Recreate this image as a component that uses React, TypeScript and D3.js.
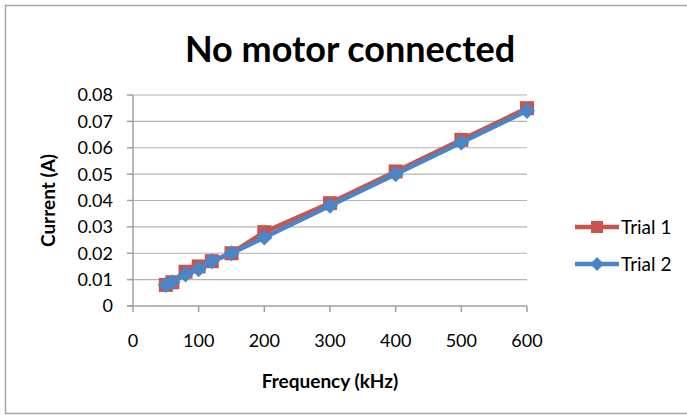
import React, { useRef, useEffect } from 'react'
import * as d3 from 'd3'

const frequencies = [50, 60, 80, 100, 120, 150, 200, 300, 400, 500, 600]
const trial1 = [0.008, 0.009, 0.013, 0.015, 0.017, 0.020, 0.028, 0.039, 0.051, 0.063, 0.075]
const trial2 = [0.008, 0.009, 0.012, 0.014, 0.017, 0.020, 0.026, 0.038, 0.050, 0.062, 0.074]
const xTicks = [0, 100, 200, 300, 400, 500, 600]
const yTicks = [0, 0.01, 0.02, 0.03, 0.04, 0.05, 0.06, 0.07, 0.08]
const seriesNames = ['Trial 1', 'Trial 2']

const W = 687
const H = 415
const font = 'Lato, "Open Sans", sans-serif'
const red = '#C9544F'
const blue = '#4A86C5'

// rotated square, as the spreadsheet draws its diamond
const squareDiamond = (r: number) => `M0,${-r}L${r},0L0,${r}L${-r},0Z`

const App: React.FC = () => {
  const svgRef = useRef<SVGSVGElement>(null)

  useEffect(() => {
    if (!svgRef.current) return
    const svg = d3.select(svgRef.current)
    svg.selectAll('*').remove()

    const x = d3.scaleLinear().domain([0, 600]).range([133, 527])
    const y = d3.scaleLinear().domain([0, 0.08]).range([306, 95])

    svg.append('rect')
      .attr('x', 5.5).attr('y', 5.5).attr('width', W + 10).attr('height', H - 7)
      .attr('fill', '#fff').attr('stroke', '#a6a6a6').attr('stroke-width', 1.5)

    // gridlines
    svg.append('g').selectAll('line').data(yTicks.slice(1)).join('line')
      .attr('x1', 133).attr('x2', 527)
      .attr('y1', d => y(d)).attr('y2', d => y(d))
      .attr('stroke', '#b3b3b3').attr('stroke-width', 1.2)

    // axes
    svg.append('line').attr('x1', 133).attr('x2', 133).attr('y1', y(0.08)).attr('y2', y(0))
      .attr('stroke', '#a0a0a0').attr('stroke-width', 1.5)
    svg.append('line').attr('x1', 127).attr('x2', 527).attr('y1', y(0)).attr('y2', y(0))
      .attr('stroke', '#a0a0a0').attr('stroke-width', 1.5)
    svg.append('g').selectAll('line').data(yTicks).join('line')
      .attr('x1', 127).attr('x2', 133).attr('y1', d => y(d)).attr('y2', d => y(d))
      .attr('stroke', '#a0a0a0').attr('stroke-width', 1.5)
    svg.append('g').selectAll('line').data(xTicks).join('line')
      .attr('x1', d => x(d)).attr('x2', d => x(d)).attr('y1', y(0)).attr('y2', y(0) + 6)
      .attr('stroke', '#a0a0a0').attr('stroke-width', 1.5)

    svg.append('g').selectAll('text').data(yTicks).join('text')
      .attr('x', 113).attr('y', d => y(d)).attr('dy', '0.36em')
      .attr('text-anchor', 'end').attr('font-family', font).attr('font-size', 18)
      .text(d => d === 0 ? '0' : d.toFixed(2))
    svg.append('g').selectAll('text').data(xTicks).join('text')
      .attr('x', d => x(d)).attr('y', 347)
      .attr('text-anchor', 'middle').attr('font-family', font).attr('font-size', 18)
      .text(d => String(d))

    svg.append('text').attr('x', 350).attr('y', 62).attr('text-anchor', 'middle')
      .attr('font-family', font).attr('font-weight', 'bold').attr('font-size', 36)
      .text('No motor connected')
    svg.append('text').attr('x', 330).attr('y', 388).attr('text-anchor', 'middle')
      .attr('font-family', font).attr('font-weight', 'bold').attr('font-size', 19)
      .text('Frequency (kHz)')
    svg.append('text').attr('transform', `translate(55,${(y(0) + y(0.08)) / 2}) rotate(-90)`)
      .attr('text-anchor', 'middle')
      .attr('font-family', font).attr('font-weight', 'bold').attr('font-size', 19)
      .text('Current (A)')

    const line = d3.line<[number, number]>().x(d => x(d[0])).y(d => y(d[1]))
    const series = [
      { data: trial1, color: red, marker: 'square' },
      { data: trial2, color: blue, marker: 'diamond' }
    ]
    const markerPath = (m: string, s: number) =>
      m === 'square' ? `M${-s},${-s}H${s}V${s}H${-s}Z` : squareDiamond(s * 1.15)
    series.forEach(s => {
      const pts = frequencies.map((f, i) => [f, s.data[i]] as [number, number])
      svg.append('path').attr('d', line(pts) || '').attr('fill', 'none')
        .attr('stroke', s.color).attr('stroke-width', 4.5).attr('stroke-linejoin', 'round')
      svg.append('g').selectAll('path').data(pts).join('path')
        .attr('transform', d => `translate(${x(d[0])},${y(d[1])})`)
        .attr('d', markerPath(s.marker, 7)).attr('fill', s.color)
    })

    // legend
    const legendY = [227, 264]
    series.forEach((s, i) => {
      const g = svg.append('g').attr('transform', `translate(0,${legendY[i]})`)
      g.append('line').attr('x1', 575).attr('x2', 619).attr('stroke', s.color).attr('stroke-width', 4.5)
      g.append('path').attr('transform', 'translate(597,0)')
        .attr('d', markerPath(s.marker, 6)).attr('fill', s.color)
      g.append('text').attr('x', 621).attr('dy', '0.36em')
        .attr('font-family', font).attr('font-size', 19).text(seriesNames[i])
    })
  }, [])

  return (
    <svg ref={svgRef} width={W} height={H}
      style={{ position: 'absolute', left: 0, top: 0, background: '#fff' }} />
  )
}

export default App
